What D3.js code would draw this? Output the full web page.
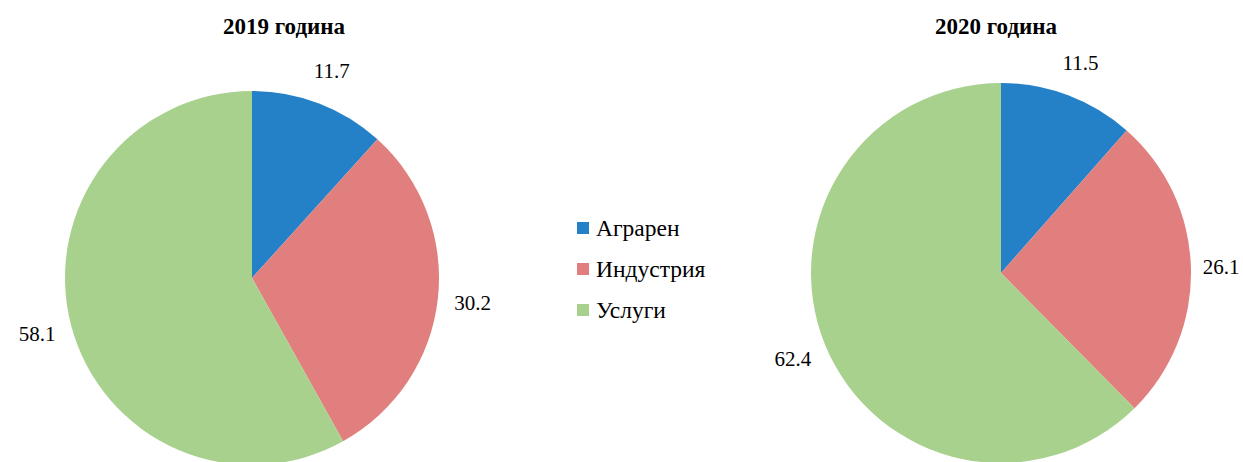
<!DOCTYPE html>
<html><head><meta charset="utf-8">
<script src="https://cdn.jsdelivr.net/npm/d3@7"></script>
<style>body{margin:0;background:#fff;}svg{display:block;}</style>
</head><body>
<svg id="chart" width="1243" height="462"></svg>
<script>
const categories = ["Аграрен", "Индустрия", "Услуги"];
const values2019 = [11.7, 30.2, 58.1];
const values2020 = [11.5, 26.1, 62.4];
const titles = ["2019 година", "2020 година"];
const colors = ["#2481c8", "#e07f7e", "#a9d18e"];

const FONT = "Liberation Serif, Times New Roman, serif";
const svg = d3.select("#chart");
const color = d3.scaleOrdinal().domain(categories).range(colors);
const pie = d3.pie().sort(null).value(d => d.v);

const charts = [
  {vals: values2019, title: titles[0], cx: 252, cy: 278, r: 187, tx: 284},
  {vals: values2020, title: titles[1], cx: 1001, cy: 273, r: 190, tx: 996}
];

charts.forEach(c => {
  const data = categories.map((k, i) => ({k, v: c.vals[i]}));
  const arc = d3.arc().innerRadius(0).outerRadius(c.r);
  const lab = d3.arc().innerRadius(c.r + 35).outerRadius(c.r + 35);
  const g = svg.append("g").attr("transform", `translate(${c.cx},${c.cy})`);
  const arcs = pie(data);
  g.selectAll("path").data(arcs).join("path")
    .attr("d", arc).attr("fill", d => color(d.data.k));
  g.selectAll("text").data(arcs).join("text")
    .attr("transform", d => {
      const [x, y] = lab.centroid(d);
      const xc = Math.min(x, 1243 - 22 - c.cx);
      return `translate(${xc},${y})`;
    })
    .attr("text-anchor", "middle").attr("dy", "0.35em")
    .attr("font-family", FONT).attr("font-size", 21).attr("fill", "#000")
    .text(d => d.data.v.toFixed(1));
  svg.append("text").attr("x", c.tx).attr("y", 34).attr("text-anchor", "middle")
    .attr("font-family", FONT).attr("font-size", 23).attr("font-weight", "bold")
    .text(c.title);
});

const leg = svg.append("g").attr("transform", "translate(577,222)");
const ly = d3.scalePoint().domain(categories).range([0, 82]);
categories.forEach(k => {
  leg.append("rect").attr("x", 0).attr("y", ly(k)).attr("width", 12).attr("height", 12).attr("fill", color(k));
  leg.append("text").attr("x", 19).attr("y", ly(k) + 14)
    .attr("font-family", FONT).attr("font-size", 23.5).text(k);
});
</script>
</body></html>
